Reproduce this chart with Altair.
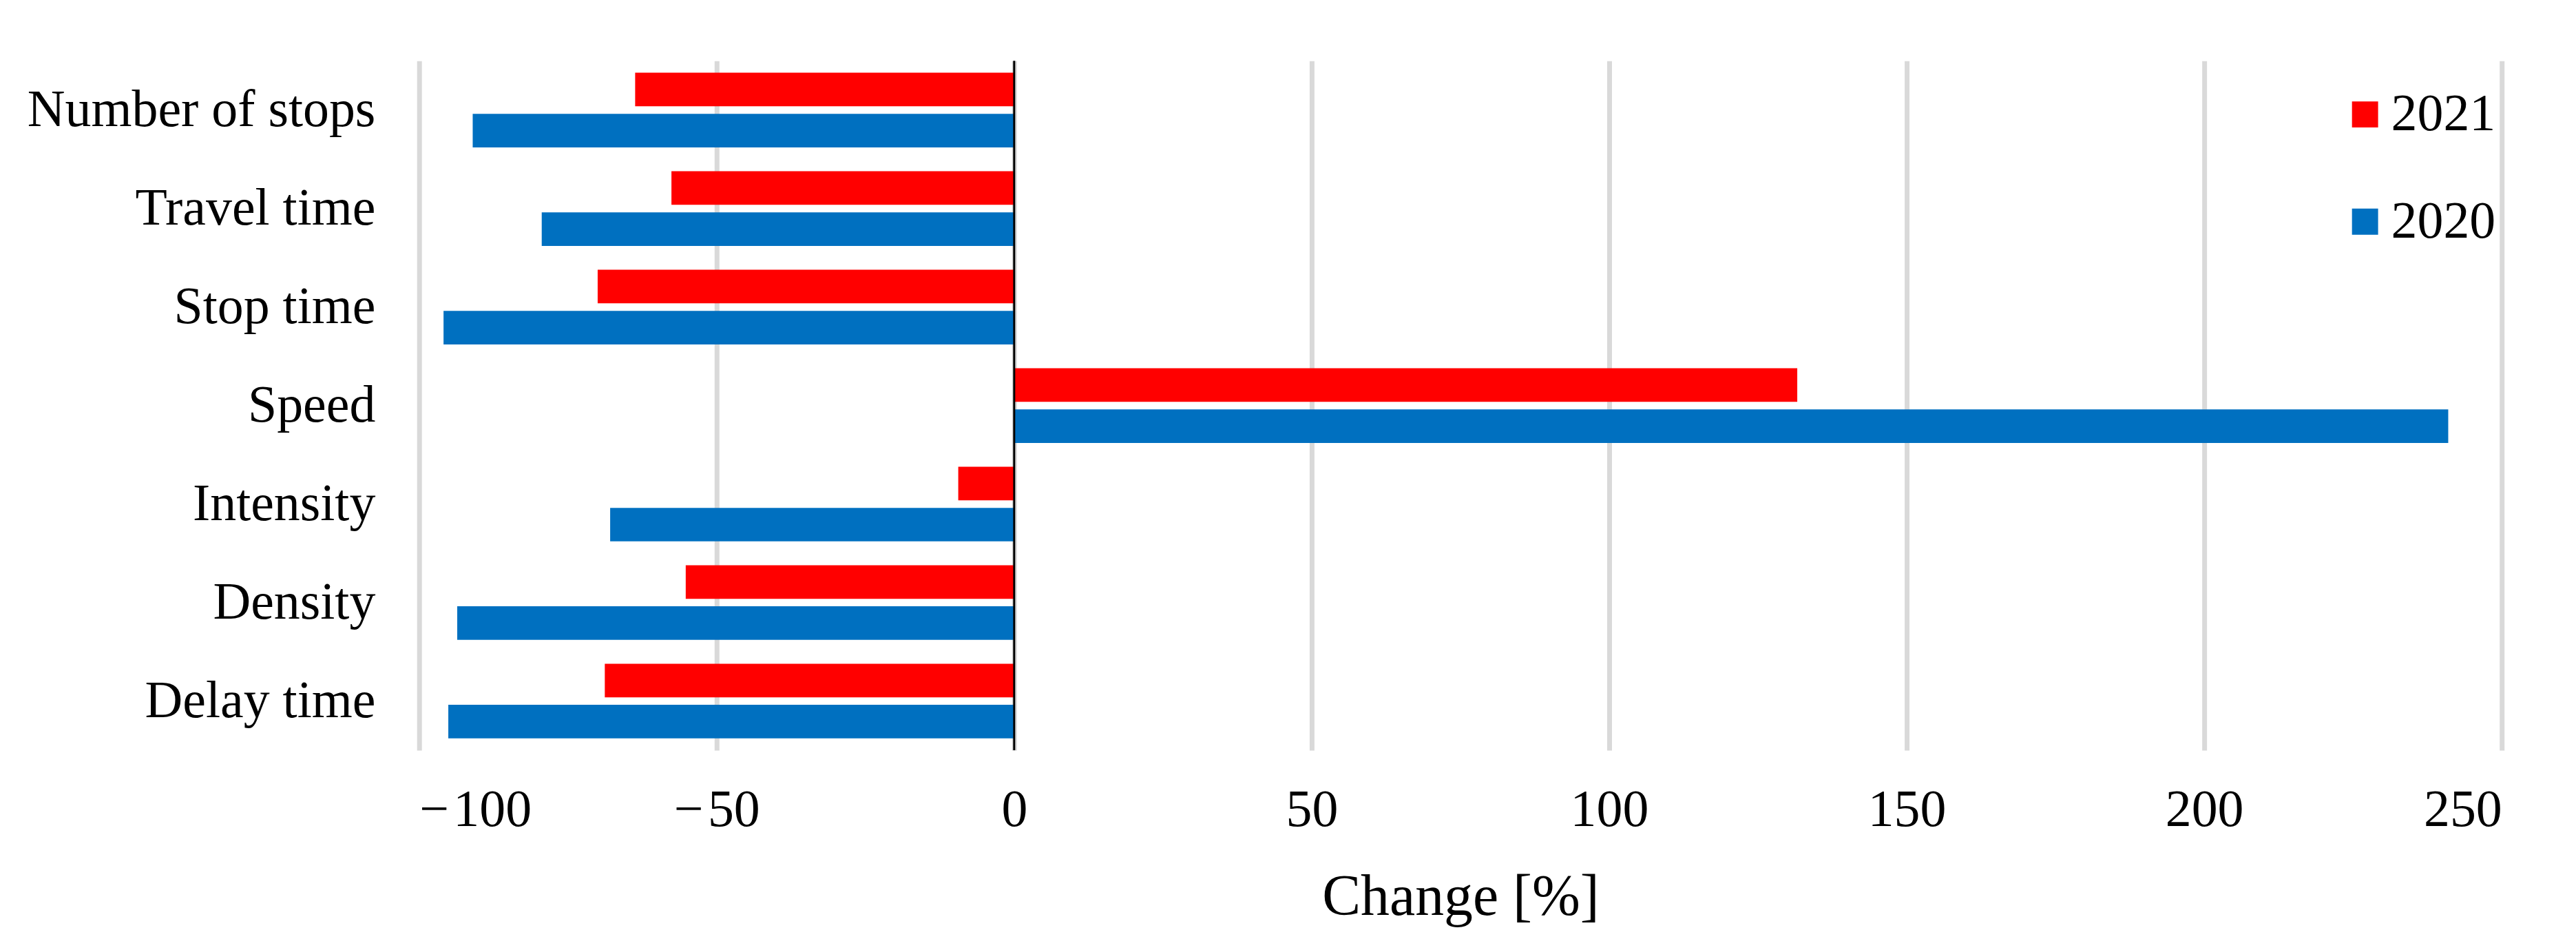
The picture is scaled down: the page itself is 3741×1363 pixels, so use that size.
import altair as alt
import pandas as pd

categories = ["Number of stops", "Travel time", "Stop time", "Speed",
              "Intensity", "Density", "Delay time"]
values_2021 = [-63.7, -57.6, -70.0, 131.6, -9.4, -55.2, -68.8]
values_2020 = [-91.0, -79.4, -95.9, 241.0, -67.9, -93.6, -95.1]
years = ["2021", "2020"]
colors = ["#FF0000", "#0070C0"]
x_ticks = [-100, -50, 0, 50, 100, 150, 200, 250]

rows = []
for c, a, b in zip(categories, values_2021, values_2020):
    rows.append({"Category": c, "Year": "2021", "Change": a})
    rows.append({"Category": c, "Year": "2020", "Change": b})
df = pd.DataFrame(rows)
zero_df = pd.DataFrame({"zero": [0]})

font = "Liberation Serif"

bars = alt.Chart(df).mark_bar().encode(
    x=alt.X("Change:Q",
            scale=alt.Scale(domain=[-100, 250], nice=False, zero=False),
            axis=alt.Axis(values=x_ticks, title="Change [%]", grid=True,
                          gridColor="#D9D9D9", gridWidth=7, ticks=False,
                          domain=False, labelFontSize=76, titleFontSize=84,
                          labelExpr="datum.value < 0 ? '\u2212\u200a' + format(-datum.value, 'd') + '\u2007' : datum.label",
                          labelPadding=50, titlePadding=48, labelFont=font,
                          titleFont=font, labelColor="black",
                          titleColor="black", titleFontWeight="normal")),
    y=alt.Y("Category:N", sort=categories,
            scale=alt.Scale(paddingInner=0, paddingOuter=0),
            axis=alt.Axis(title=None, ticks=False, domain=False,
                          labelFontSize=76, labelPadding=64, labelFont=font,
                          labelColor="black", grid=False, labelLimit=2000)),
    yOffset=alt.YOffset("Year:N", sort=years,
                        scale=alt.Scale(domain=years, paddingInner=0.183,
                                        paddingOuter=0.29)),
    color=alt.Color("Year:N", sort=years,
                    scale=alt.Scale(domain=years, range=colors),
                    legend=alt.Legend(title=None, orient="none",
                                      legendX=2794, legendY=40,
                                      symbolType="square", symbolSize=1444,
                                      symbolStrokeWidth=0, labelFontSize=76,
                                      labelFont=font, labelColor="black",
                                      labelOffset=0, rowPadding=80,
                                      padding=0)),
)

zero_rule = alt.Chart(zero_df).mark_rule(color="black", strokeWidth=3).encode(
    x=alt.X("zero:Q")
)

chart = alt.layer(bars, zero_rule).properties(
    width=3031, height=1003,
    background="white",
    autosize=alt.AutoSizeParams(type="none"),
    padding={"left": 602, "top": 79, "right": 100, "bottom": 265},
).configure_view(stroke=None)

chart.save("out.html", embed_options={"renderer": "svg", "actions": False})
